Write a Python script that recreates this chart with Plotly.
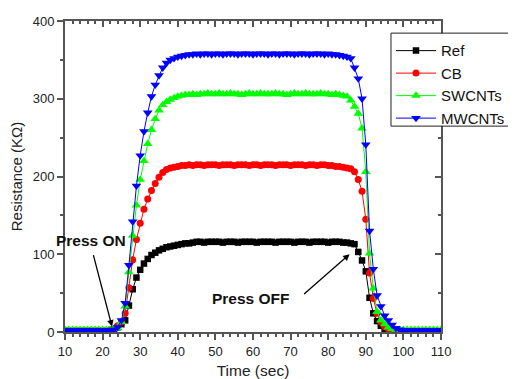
import plotly.graph_objects as go

time_s = list(range(10, 111))

ref = [
    1, 1, 1, 1, 1, 1, 1, 1, 1, 1,
    1, 1, 2, 3, 6, 10, 15, 34, 55, 70,
    80, 88, 94, 99, 102, 105, 107, 109, 110, 111,
    112, 113, 114, 114, 115, 116, 116, 115, 116, 116,
    116, 116, 115, 116, 116, 116, 115, 116, 116, 116,
    116, 115, 116, 116, 116, 116, 115, 116, 116, 116,
    116, 115, 116, 116, 116, 115, 116, 116, 116, 116,
    115, 116, 116, 116, 115, 115, 114, 113, 103, 92,
    78, 44, 24, 14, 8, 4, 2, 1, 1, 1,
    1, 1, 1, 1, 1, 1, 1, 1, 1, 1,
    1]

cb = [
    2, 2, 2, 2, 2, 2, 2, 2, 2, 2,
    2, 2, 3, 4, 8, 13, 24, 57, 93, 119,
    140, 158, 171, 182, 191, 199, 205, 209, 211, 212,
    213, 214, 214, 215, 214, 215, 215, 214, 215, 215,
    215, 214, 215, 215, 215, 214, 215, 215, 215, 214,
    215, 215, 214, 215, 215, 215, 214, 215, 215, 215,
    214, 215, 215, 215, 214, 215, 215, 214, 215, 215,
    214, 214, 213, 213, 212, 211, 210, 206, 196, 181,
    145, 76, 43, 24, 13, 7, 4, 2, 2, 1,
    1, 1, 1, 1, 1, 1, 1, 1, 1, 1,
    1]

swcnts = [
    3, 3, 3, 3, 3, 3, 3, 3, 3, 3,
    3, 3, 3, 4, 5, 13, 33, 77, 124, 163,
    196, 220, 242, 260, 274, 285, 292, 296, 299, 301,
    303, 304, 305, 305, 306, 305, 306, 306, 307, 306,
    306, 307, 306, 306, 307, 306, 306, 305, 306, 307,
    306, 306, 307, 306, 306, 306, 307, 306, 306, 305,
    306, 307, 306, 306, 307, 306, 306, 306, 307, 306,
    306, 305, 306, 305, 304, 303, 298, 290, 281, 262,
    206, 101, 56, 26, 15, 10, 6, 4, 3, 3,
    3, 3, 3, 3, 3, 3, 3, 3, 3, 3,
    3]

mwcnts = [
    2, 2, 2, 2, 2, 2, 2, 2, 2, 2,
    2, 2, 2, 3, 6, 15, 37, 86, 142, 188,
    227, 258, 282, 303, 318, 330, 340, 346, 350, 352,
    354, 355, 356, 357, 357, 358, 357, 358, 358, 357,
    358, 358, 357, 358, 358, 358, 357, 358, 358, 358,
    357, 358, 358, 358, 357, 358, 358, 357, 358, 358,
    358, 357, 358, 358, 358, 357, 358, 358, 358, 357,
    358, 357, 357, 356, 355, 354, 352, 340, 326, 300,
    241, 130, 81, 47, 33, 21, 15, 9, 5, 3,
    2, 2, 2, 2, 2, 2, 2, 2, 2, 2,
    2]

series_names = ["Ref", "CB", "SWCNTs", "MWCNTs"]
series_values = [ref, cb, swcnts, mwcnts]
series_colors = ["#000000", "#ff0000", "#00ff00", "#0000ff"]
series_symbols = ["square", "circle", "triangle-up", "triangle-down"]
series_sizes = [6.5, 7, 8.5, 8.5]

FONT = "Arial, Liberation Sans, sans-serif"
AX = "#555555"

fig = go.Figure()
for name, vals, col, sym, sz in zip(series_names, series_values, series_colors,
                                     series_symbols, series_sizes):
    fig.add_trace(go.Scatter(
        x=time_s, y=vals, name=name, mode="lines+markers",
        line=dict(color=col, width=1),
        marker=dict(symbol=sym, size=sz, color=col, line=dict(width=0)),
    ))

# dummy trace to carry the mirrored (inside-tick) axes
fig.add_trace(go.Scatter(x=[], y=[], xaxis="x2", yaxis="y2",
                         showlegend=False, hoverinfo="skip"))

fig.update_layout(
    width=516, height=379,
    margin=dict(l=57, r=83, t=13, b=55, autoexpand=False),
    paper_bgcolor="white", plot_bgcolor="white",
    font=dict(family=FONT, size=13, color="#222222"),
    showlegend=True,
    legend=dict(x=0.867, y=0.957, xanchor="left", yanchor="top",
                bgcolor="rgba(0,0,0,0)", borderwidth=0,
                font=dict(size=15, color="#111111"),
                tracegroupgap=0, itemwidth=40),
    xaxis=dict(range=[10, 110], tick0=10, dtick=10, ticks="outside",
               ticklen=6, tickwidth=1.5, tickcolor=AX, automargin=False,
               minor=dict(dtick=2, ticks="outside", ticklen=3, tickcolor=AX),
               showline=True, linecolor=AX, linewidth=2, showgrid=False,
               zeroline=False,
               title=dict(text="Time (sec)", font=dict(size=15.5), standoff=8),
               tickfont=dict(size=13)),
    yaxis=dict(range=[0, 400], tick0=0, dtick=100, ticks="outside",
               ticklen=6, tickwidth=1.5, tickcolor=AX, automargin=False,
               minor=dict(dtick=50, ticks="outside", ticklen=3, tickcolor=AX),
               showline=True, linecolor=AX, linewidth=2, showgrid=False,
               zeroline=False,
               title=dict(text="Resistance (KΩ)", font=dict(size=15), standoff=8),
               tickfont=dict(size=13)),
    xaxis2=dict(range=[10, 110], overlaying="x", side="top", anchor="y",
                tick0=10, dtick=10, ticks="inside", ticklen=6, tickwidth=1.5,
                tickcolor=AX, automargin=False,
                minor=dict(dtick=2, ticks="inside", ticklen=3, tickcolor=AX),
                showticklabels=False, showline=True, linecolor=AX,
                linewidth=1.5, showgrid=False, zeroline=False),
    yaxis2=dict(range=[0, 400], overlaying="y", side="right", anchor="x",
                tick0=0, dtick=100, ticks="inside", ticklen=6, tickwidth=1.5,
                tickcolor=AX, automargin=False,
                minor=dict(dtick=50, ticks="inside", ticklen=3, tickcolor=AX),
                showticklabels=False, showline=True, linecolor=AX,
                linewidth=1.5, showgrid=False, zeroline=False),
)

# legend frame (extends past the right edge, as in the original)
fig.add_shape(type="rect", xref="paper", yref="paper",
              x0=0.867, x1=1.35, y0=0.662, y1=0.961, layer="above",
              fillcolor="white", line=dict(color="#222222", width=1))

fig.add_annotation(x=22.5, y=7, ax=-19, ay=-73, xref="x", yref="y",
                   text="", showarrow=True, arrowhead=2, arrowsize=1,
                   arrowwidth=1.3, arrowcolor="#000000")
fig.add_annotation(x=16.8, y=118, xref="x", yref="y", text="<b>Press ON</b>",
                   showarrow=False, font=dict(size=15.5, color="#111111"))
fig.add_annotation(x=85.7, y=100, ax=-47, ay=41, xref="x", yref="y",
                   text="", showarrow=True, arrowhead=2, arrowsize=1,
                   arrowwidth=1.3, arrowcolor="#000000")
fig.add_annotation(x=59.5, y=43.5, xref="x", yref="y", text="<b>Press OFF</b>",
                   showarrow=False, font=dict(size=15.5, color="#111111"))

fig.write_html("out.html")
